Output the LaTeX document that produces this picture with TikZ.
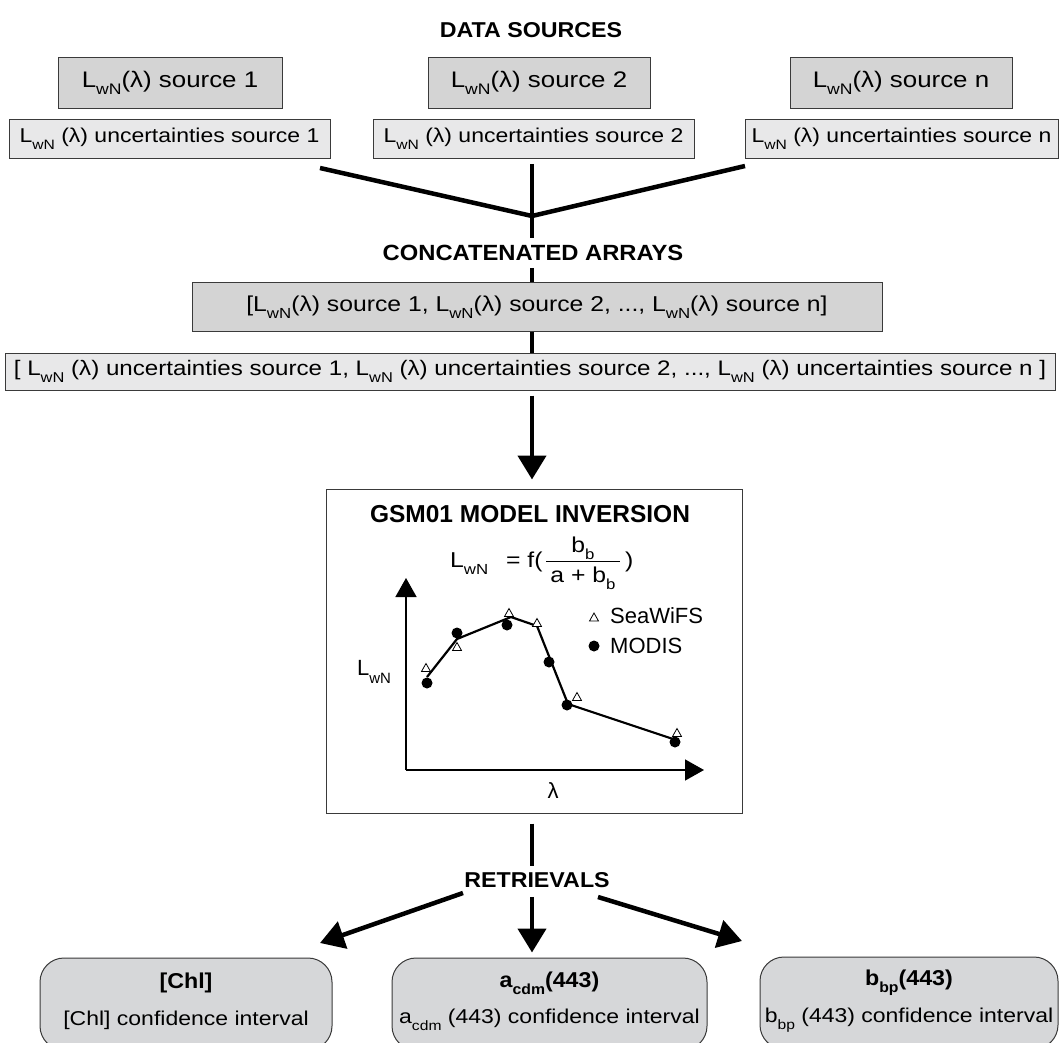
\documentclass[tikz,border=0pt]{standalone}
\usepackage{fontspec}
\setmainfont{Liberation Sans}[FakeStretch=1.15]
\newfontfamily\plainsans{Liberation Sans}
\newfontfamily\boldsans{Liberation Sans Bold}[FakeStretch=1.08]
\usetikzlibrary{arrows.meta,calc}
\definecolor{darkfill}{HTML}{D4D4D4}
\definecolor{lightfill}{HTML}{E8E8E9}
\definecolor{roundfill}{HTML}{D6D7D9}
\definecolor{edgec}{HTML}{3A3A3A}
\newcommand{\sbs}[1]{\raisebox{-0.34em}{\fontsize{0.68em}{0.68em}\selectfont #1}}
\newcommand{\Lw}{L\sbs{wN}}
\begin{document}
\begin{tikzpicture}[x=1pt,y=-1pt,
  txt/.style={font=\fontsize{20}{24}\selectfont, inner sep=0pt},
  bigtxt/.style={font=\fontsize{22.5}{26}\selectfont, inner sep=0pt},
  ttl/.style={font=\boldsans\fontsize{21.5}{24}\selectfont, inner sep=0pt},
  gtxt/.style={font=\plainsans\fontsize{22}{26}\selectfont, inner sep=0pt},
  eqtxt/.style={font=\fontsize{21.5}{26}\selectfont, inner sep=0pt},
  darkbox/.style={bigtxt, draw=edgec, line width=1pt, fill=darkfill},
  lightbox/.style={txt, draw=edgec, line width=1pt, fill=lightfill},
  roundbox/.style={draw=edgec, line width=1pt, fill=roundfill, rounded corners=24pt, inner sep=0pt},
  flow/.style={line width=4.5pt},
  flowarrow/.style={line width=4.5pt, -{Triangle[length=24pt,width=28pt]}},
  axis/.style={line width=1.5pt, -{Triangle[length=19pt,width=21pt]}},
  seapt/.style={draw=black, fill=white, line width=0.8pt},
]
\useasboundingbox (0,0) rectangle (1061,1043);

% ---------- data sources
\node[ttl] (ds) at (531,30) {DATA SOURCES};
\node[darkbox, minimum width=224pt, minimum height=51pt] (s1) at (170,83) {\Lw(λ) source 1};
\node[darkbox, minimum width=222pt, minimum height=51pt] (s2) at (539,83) {\Lw(λ) source 2};
\node[darkbox, minimum width=222pt, minimum height=51pt] (sn) at (901,83) {\Lw(λ) source n};
\node[lightbox, minimum width=321pt, minimum height=39pt] (u1) at (169.5,139) {\Lw\ (λ) uncertainties source 1};
\node[lightbox, minimum width=321pt, minimum height=39pt] (u2) at (533.5,139) {\Lw\ (λ) uncertainties source 2};
\node[lightbox, minimum width=313pt, minimum height=39pt] (un) at (901.5,139) {\Lw\ (λ) uncertainties source n};

\coordinate (j) at (532,216);
\coordinate (lstart) at (320,168);
\coordinate (rstart) at (745,166);
\draw[flow] (lstart) -- (j);
\draw[flow] (rstart) -- (j);

% ---------- concatenated arrays
\node[ttl, font=\boldsans\fontsize{22}{24}\selectfont] (cat) at (533,253) {CONCATENATED ARRAYS};
\draw[flow, shorten <=5pt, shorten >=7pt] (j |- u2.south) -- (j |- cat.north);
\node[darkbox, font=\fontsize{21.5}{24}\selectfont, minimum width=690pt, minimum height=48pt] (conc) at (537,307)
  {[\Lw(λ) source 1, \Lw(λ) source 2, ..., \Lw(λ) source n]};
\node[lightbox, font=\fontsize{21}{24}\selectfont, minimum width=1050pt, minimum height=37pt] (long) at (530,371.5)
  {[ \Lw\ (λ) uncertainties source 1, \Lw\ (λ) uncertainties source 2, ..., \Lw\ (λ) uncertainties source n ]};
\draw[flow, shorten <=7pt] (j |- cat.south) -- (j |- conc.north);
\draw[flow] (j |- conc.south) -- (j |- long.north);

% ---------- model box
\node[draw=edgec, line width=1pt, minimum width=416pt, minimum height=324pt, inner sep=0pt] (model) at (534,651) {};
\draw[flowarrow, shorten <=5pt, shorten >=9pt] (j |- long.south) -- (j |- model.north);
\node[font=\plainsans\fontsize{24.5}{26}\selectfont\bfseries, inner sep=0pt] (gsm) at (530,514) {GSM01 MODEL INVERSION};
\node[eqtxt, anchor=base west] (eqL) at (450,567) {\Lw};
\node[eqtxt, anchor=base west] (eqf) at (506,567) {= f(};
\node[eqtxt] (num) at (583,548) {b\sbs{b}};
\node[eqtxt] (den) at (583,578) {a + b\sbs{b}};
\node[eqtxt, anchor=base west] (eqr) at (625,567) {)};
\draw[line width=1pt] (546,561) -- (620,561);

% graph
\coordinate (O) at (406,770);
\coordinate (ytip) at (406,578);
\coordinate (xtip) at (704,770);
\draw[axis] (O) -- (ytip);
\draw[axis] (O) -- (xtip);
\node[gtxt] (ylab) at (374,672) {\Lw};
\node[gtxt] (xlab) at (553,791) {λ};
\draw[line width=2.2pt, line join=round] (427,677) -- (457,639) -- (511,617) -- (537,626) -- (568,704) -- (676,740);
\foreach \p in {(427,683),(457,633),(507,625),(549,662),(567,705),(675,742)}
  \fill \p circle (5.5);
\foreach \p in {(426,668),(457,647),(509,613),(537,623),(577,697),(677,733)}
  \draw[seapt] \p ++(0,-4.5) -- ++(4.5,8) -- ++(-9,0) -- cycle;
\draw[seapt] (594,613) -- ++(4.5,8) -- ++(-9,0) -- cycle;
\node[gtxt, anchor=west] (sea) at (610,616) {SeaWiFS};
\fill (594,646) circle (5.5);
\node[gtxt, anchor=west] (mod) at (610,646) {MODIS};

% ---------- retrievals
\node[ttl] (ret) at (537,880) {RETRIEVALS};
\draw[flow, shorten <=10pt, shorten >=6pt] (j |- model.south) -- (j |- ret.north);
\node[roundbox, minimum width=292pt, minimum height=92pt] (r1) at (186,1004) {};
\node[roundbox, minimum width=315pt, minimum height=92pt] (r2) at (549.5,1004) {};
\node[roundbox, minimum width=298pt, minimum height=92pt] (r3) at (909,1003) {};
\draw[flowarrow, shorten <=9pt, shorten >=5pt] (j |- ret.south) -- (j |- r2.north);
\coordinate (la) at (463,893);
\coordinate (lt) at (320,943);
\coordinate (ra) at (598,897);
\coordinate (rt) at (742,941);
\draw[flowarrow] (la) -- (lt);
\draw[flowarrow] (ra) -- (rt);

\node[ttl] (r1a) at (186,983) {[Chl]};
\node[txt] (r1b) at (186,1020) {[Chl] confidence interval};
\node[ttl] (r2a) at (549.5,983) {a\sbs{cdm}(443)};
\node[txt] (r2b) at (549.5,1020) {a\sbs{cdm} (443) confidence interval};
\node[ttl] (r3a) at (909,983) {b\sbs{bp}(443)};
\node[txt] (r3b) at (909,1020) {b\sbs{bp} (443) confidence interval};
\end{tikzpicture}
\end{document}
